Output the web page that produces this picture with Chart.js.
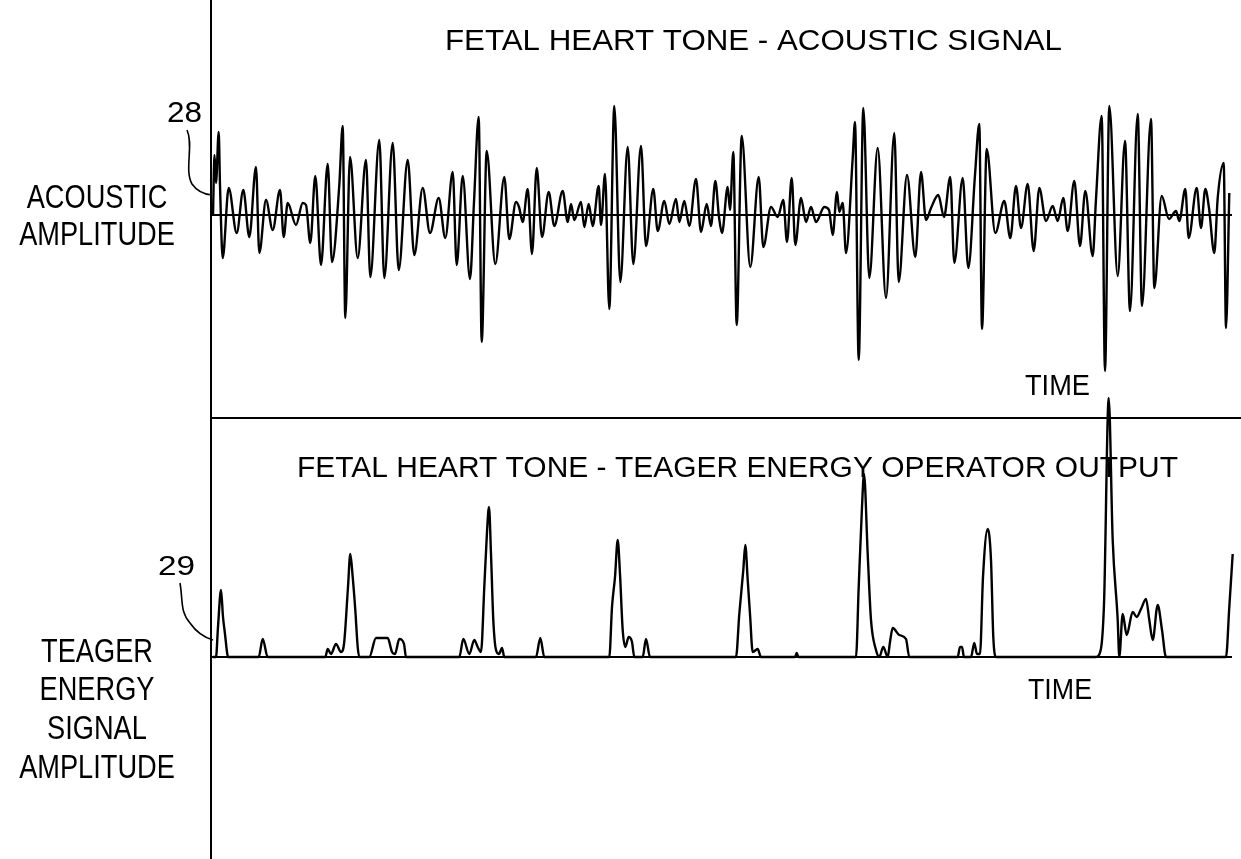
<!DOCTYPE html>
<html><head><meta charset="utf-8">
<script src="https://cdn.jsdelivr.net/npm/chart.js@4/dist/chart.umd.min.js"></script>
<style>
html,body{margin:0;padding:0;background:#fff;}
#wrap{position:relative;width:1241px;height:859px;overflow:hidden;background:#fff;}
canvas{position:absolute;left:0;top:0;}
</style></head><body>
<div id="wrap"><canvas id="topChart" width="1241" height="859"></canvas><canvas id="bottomChart" width="1241" height="859"></canvas></div>
<script>
// ---- data (time in sample units, amplitude in arbitrary units) ----
const acousticTime = [2,3.5,5,7.7,9,11.7,17.7,25.7,32.3,38.3,45,48.3,55,61.7,69,72.7,76.7,85,91.7,95,99.3,104.3,110,116.7,121,128.3,131.7,134.3,139,146.7,155,159.3,168.3,173.3,181.7,187.7,196.7,203.3,211.7,219,227.7,234.3,241.7,245.7,251.7,
259,263,267.7,270.7,275.7,284.3,293.3,298.3,305,308,311.7,316.7,321,325.7,331,337.7,343.3,351.7,356.7,360,363.3,370,373.3,377.7,381.7,387.7,390,394,398.3,403.3,409.3,416.7,422.3,430,435,442.3,446.7,453.3,458.3,465,468.3,473.3,478.3,485,490,495.7,500,504.3,
508,511,516.7,519,522.3,525.7,530.7,539.3,547.7,552.3,560,566.7,572.3,576,580.7,584.3,590,595,600,605,613.3,618,621.7,626,628.3,631.7,635,641.7,644,647.7,652.3,658.3,666.7,675,683.3,687.7,696,704.3,710,715,720,727.3,733,739.3,743.3,751.7,
757.3,764,768.3,771,775.7,784.3,793.3,799.3,805,810,816.7,822.7,828.3,835,841.7,846.7,852.3,856.7,863.3,869,874.3,881.7,885,890.7,894,898.3,906.7,914,919,926.7,931,940,943.3,950.7,958,965,968.3,974.3,977.7,985.7,990,994.3,998,1003.3,1006.7,1012.7,1015,1018.3];
const acousticAmp = [0,60,32,83,30,-43,27,-18,25,-22,48,-38,15,-15,25,-22,12,-10,12,10,-28,39,-50,51,-47,30,89,-103,58,-43,55,-62,75,-63,72,-55,55,-40,27,-18,17,-23,43,-50,39,
-64,13,98,-127,64,-49,38,-24,13,8,-7,26,-39,47,-22,23,-11,24,-7,11,-5,13,-12,11,-11,29,-10,41,-94,109,-67,68,-49,69,-31,26,-16,14,-9,16,-7,14,-11,36,-17,11,-11,34,
-2,-18,28,5,63,-110,79,-52,38,-32,8,-2,15,-27,37,-30,17,-7,8,-7,8,5,-20,23,3,12,-38,57,93,-145,107,-63,67,-83,82,-67,40,-42,43,-5,7,20,-2,38,-48,37,
-53,40,91,-114,66,-18,14,-23,29,-13,31,-36,27,-6,9,-6,17,-16,34,-31,24,-41,16,99,-156,109,-61,74,-96,101,-91,96,-73,19,-4,4,-6,26,-23,27,-13,26,7,-38,17,52,-113,22];

const teagerTime = [2,5,7,10,12,14,16,17,47.7,51.7,56.7,114.3,116.7,120,125,130,133,137,139.3,141.7,144.3,146.7,148.3,158.3,165,176.7,181,184,188.3,193,195,
248.3,252.3,258.3,263.3,266.7,270,273.3,276,278,280,282.3,285,288,291,293.3,325,329.3,333.3,398.3,401,404,406.7,409,411.7,414.3,417.7,421,423.3,431.7,435,439,
525,528.3,532.3,534.3,536.7,539,541.7,546.7,550,584,585.7,587.5,645,647.7,651,653,656.7,660,665,668.3,672.3,676.7,679,681.7,688.3,695,698.3,
746.7,749,751,753,760,763.3,766,769,772,776.7,780,782.3,785,885,888,893,897.7,901.7,906.7,908.3,911.7,915.7,921.7,925.7,930,935,938.3,941.7,946.7,951,955,1015,1018.3,1021.7];
const teagerAmp = [0,0,30,67,40,23,5,0,0,18,0,0,8,3,13,5,13,70,103,80,47,10,0,0,19,19,5,3,18,13,0,
0,18,3,17,10,5,70,125,150,103,37,7,3,9,0,0,19,0,0,50,80,117,83,27,10,20,15,0,0,18,0,
0,43,87,112,77,43,5,8,0,0,4,0,0,70,150,183,103,37,7,0,10,0,15,29,22,18,0,
0,10,10,0,0,14,3,3,80,128,97,20,0,0,2,53,259,117,37,0,43,22,45,40,48,58,37,17,52,27,0,0,50,103];

const timeRange = [1, 1021];           // extent of the zero / baseline
const topTitle = 'FETAL HEART TONE - ACOUSTIC SIGNAL';
const bottomTitle = 'FETAL HEART TONE - TEAGER ENERGY OPERATOR OUTPUT';
const xLabel = 'TIME';
const topYLabel = ['ACOUSTIC', 'AMPLITUDE'];
const bottomYLabel = ['TEAGER', 'ENERGY', 'SIGNAL', 'AMPLITUDE'];
const refTop = '28', refBottom = '29';

const toXY = (ts, vs) => ts.map((t, i) => ({x: t, y: vs[i]}));
const FONT = '"Liberation Sans", Arial, sans-serif';

function fitText(ctx, str, left, right, baseline, size) {
  ctx.save();
  ctx.font = size + 'px ' + FONT;
  const w = ctx.measureText(str).width;
  ctx.translate(left, baseline);
  ctx.scale((right - left) / w, 1);
  ctx.textAlign = 'left'; ctx.textBaseline = 'alphabetic'; ctx.fillStyle = '#000';
  ctx.fillText(str, 0, 0);
  ctx.restore();
}
function centerText(ctx, str, cx, baseline, size, sx) {
  ctx.save();
  ctx.font = size + 'px ' + FONT;
  ctx.translate(cx, baseline);
  ctx.scale(sx, 1);
  ctx.textAlign = 'center'; ctx.textBaseline = 'alphabetic'; ctx.fillStyle = '#000';
  ctx.fillText(str, 0, 0);
  ctx.restore();
}

const annotations = {
  id: 'annotations',
  afterDraw(chart) {
    const ctx = chart.ctx;
    fitText(ctx, topTitle, 445, 1062, 50, 30);
    fitText(ctx, bottomTitle, 297, 1178, 477, 30);
    fitText(ctx, xLabel, 1025, 1090, 395, 30);
    fitText(ctx, xLabel, 1028, 1092, 699, 30);
    fitText(ctx, refTop, 167, 202, 122, 30);
    fitText(ctx, refBottom, 158, 195, 575, 28);
    const tb = [208, 245];
    topYLabel.forEach((s, i) => centerText(ctx, s, 97, tb[i], 34, 0.80));
    const bb = [662, 700, 739, 778];
    bottomYLabel.forEach((s, i) => centerText(ctx, s, 97, bb[i], 34, 0.80));
    // leader lines
    ctx.save();
    ctx.strokeStyle = '#000'; ctx.lineWidth = 1.6;
    ctx.beginPath();
    ctx.moveTo(187, 130);
    ctx.bezierCurveTo(194, 145, 184, 170, 192, 184);
    ctx.quadraticCurveTo(199, 194, 212, 195);
    ctx.stroke();
    ctx.beginPath();
    ctx.moveTo(180, 583);
    ctx.bezierCurveTo(183, 600, 180, 612, 190, 623);
    ctx.quadraticCurveTo(199, 636, 213, 640);
    ctx.stroke();
    ctx.restore();
  }
};

const axisOff = {ticks: {display: false}, grid: {display: false, drawTicks: false}};

new Chart(document.getElementById('topChart'), {
  type: 'line',
  data: {datasets: [
    {data: toXY(acousticTime, acousticAmp), borderColor: '#000', borderWidth: 2.4, pointRadius: 0, cubicInterpolationMode: 'monotone', clip: false},
    {data: toXY(timeRange, [0, 0]), borderColor: '#000', borderWidth: 2.2, pointRadius: 0}
  ]},
  options: {
    responsive: false, animation: false, devicePixelRatio: 1,
    layout: {padding: {left: 211, top: 0, right: 0, bottom: 441}},
    plugins: {legend: {display: false}, tooltip: {enabled: false}},
    scales: {
      x: Object.assign({type: 'linear', min: 0, max: 1030, border: {display: true, color: '#000', width: 2}}, axisOff),
      y: Object.assign({min: -203, max: 215, border: {display: true, color: '#000', width: 2}}, axisOff)
    }
  }
});

new Chart(document.getElementById('bottomChart'), {
  type: 'line',
  data: {datasets: [
    {data: toXY(teagerTime, teagerAmp), borderColor: '#000', borderWidth: 2.4, pointRadius: 0, cubicInterpolationMode: 'monotone', clip: false},
    {data: toXY(timeRange, [0, 0]), borderColor: '#000', borderWidth: 2.2, pointRadius: 0}
  ]},
  options: {
    responsive: false, animation: false, devicePixelRatio: 1,
    layout: {padding: {left: 211, top: 418, right: 0, bottom: 0}},
    plugins: {legend: {display: false}, tooltip: {enabled: false}},
    scales: {
      x: Object.assign({type: 'linear', min: 0, max: 1030, display: false}, axisOff),
      y: Object.assign({min: -202, max: 239, border: {display: true, color: '#000', width: 2}}, axisOff)
    }
  },
  plugins: [annotations]
});
</script>
</body></html>
